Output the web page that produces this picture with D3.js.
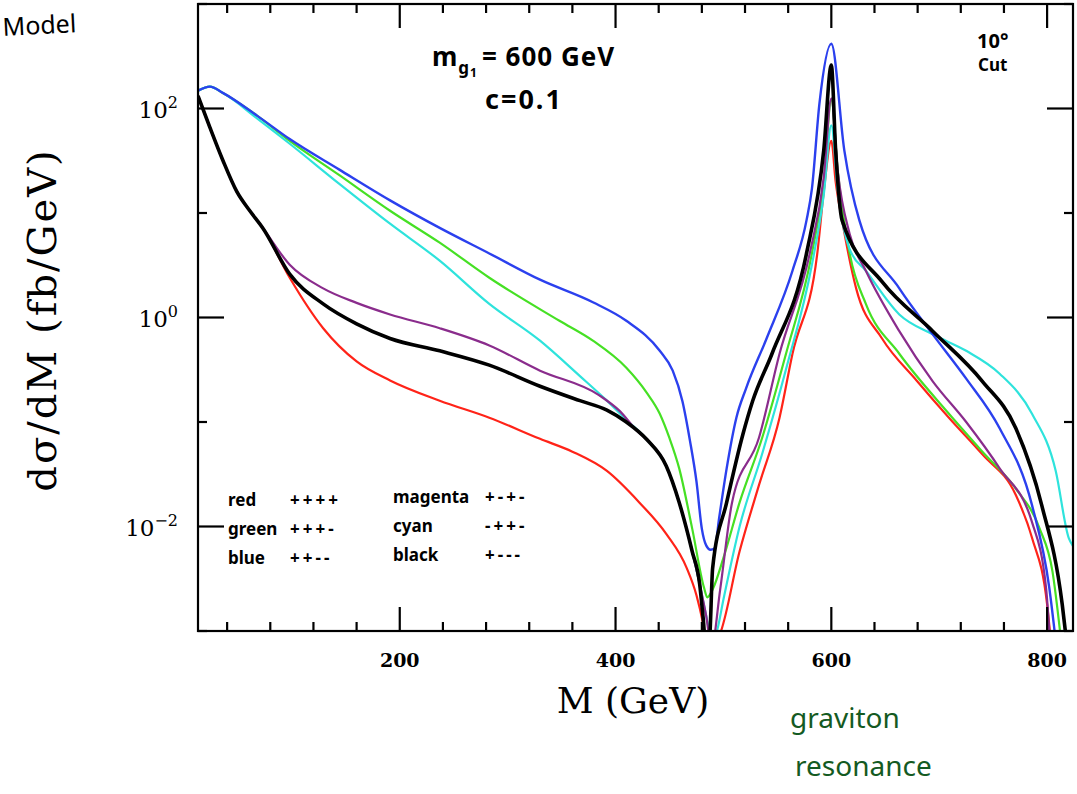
<!DOCTYPE html>
<html>
<head>
<meta charset="utf-8">
<script src="https://cdn.jsdelivr.net/npm/d3@7"></script>
<style>
  body { margin: 0; background: #fff; }
  svg { display: block; }
</style>
</head>
<body>
<div class="chartBox"></div>
<script>
// M in GeV, dsigma/dM in fb/GeV
var redM   = [13, 24, 36, 49, 61, 73, 98, 129, 160, 191, 237, 283, 330, 360, 392, 422, 447, 466, 475, 481, 485, 496, 515, 533, 552, 564, 587, 593, 600, 604, 610, 623, 647, 679, 709, 740, 771, 786, 800, 804];
var redV   = [132, 66, 32, 16, 10.5, 7.2, 2.4, 0.79, 0.38, 0.25, 0.16, 0.11, 0.069, 0.052, 0.034, 0.017, 0.0085, 0.004, 0.0022, 0.0012, 0.0007, 0.0009, 0.0058, 0.025, 0.11, 0.45, 4.1, 16, 49, 20, 8.5, 1.9, 0.63, 0.25, 0.11, 0.049, 0.02, 0.0078, 0.0018, 0.0007];

var greenM = [13, 24, 36, 68, 98, 144, 191, 237, 283, 348, 379, 410, 429, 441, 450, 459, 471, 482, 485, 490, 500, 515, 536, 558, 582, 593, 600, 606, 617, 632, 663, 709, 740, 771, 793, 805, 813];
var greenV = [148, 162, 141, 85, 49, 23, 10.5, 5.2, 2.4, 0.93, 0.6, 0.33, 0.19, 0.12, 0.07, 0.036, 0.0096, 0.0026, 0.0021, 0.0025, 0.005, 0.017, 0.071, 0.45, 4.1, 20, 120, 25, 4.1, 1.35, 0.45, 0.12, 0.052, 0.023, 0.0096, 0.0037, 0.0008];

var blueM  = [13, 24, 36, 68, 98, 144, 191, 237, 283, 330, 379, 410, 441, 453, 462, 469, 475, 480, 484, 488, 492, 496, 503, 512, 521, 540, 564, 577, 582, 589, 600, 612, 626, 663, 694, 725, 756, 786, 802, 808];
var blueV  = [148, 162, 141, 85, 51, 26, 13.2, 7.2, 4.1, 2.3, 1.4, 0.93, 0.48, 0.31, 0.158, 0.066, 0.027, 0.0095, 0.0066, 0.006, 0.0062, 0.012, 0.036, 0.11, 0.21, 0.63, 2.8, 8.5, 17, 112, 417, 40, 8.5, 1.9, 0.69, 0.26, 0.087, 0.016, 0.0026, 0.0008];

var magentaM = [13, 24, 36, 49, 61, 73, 98, 129, 160, 191, 237, 283, 330, 385, 404, 420, 429, 447, 459, 471, 478, 484, 489, 497, 508, 533, 552, 580, 593, 600, 606, 617, 632, 663, 694, 725, 756, 786, 799, 803];
var magentaV = [132, 66, 32, 16, 10.5, 7.2, 3.2, 1.9, 1.38, 1.07, 0.79, 0.54, 0.31, 0.18, 0.127, 0.082, 0.068, 0.038, 0.017, 0.0058, 0.0028, 0.0014, 0.0007, 0.0025, 0.017, 0.071, 0.45, 4.1, 22, 125, 25, 6.3, 2.8, 0.74, 0.245, 0.1, 0.036, 0.011, 0.0026, 0.0007];

var cyanM  = [13, 24, 36, 68, 98, 144, 191, 237, 283, 330, 367, 392, 410, 429, 447, 459, 471, 478, 484, 490, 494, 500, 515, 536, 558, 582, 593, 600, 606, 617, 632, 663, 694, 725, 756, 786, 808, 820, 824];
var cyanV  = [148, 162, 141, 80, 46, 19, 7.9, 3.5, 1.35, 0.6, 0.275, 0.16, 0.105, 0.068, 0.038, 0.017, 0.0058, 0.0028, 0.0014, 0.0008, 0.001, 0.002, 0.01, 0.05, 0.32, 3.2, 15, 69, 16, 4.5, 2.8, 1.07, 0.69, 0.48, 0.29, 0.12, 0.034, 0.0078, 0.0065];

var blackM = [13, 24, 36, 49, 61, 73, 98, 129, 160, 191, 237, 283, 330, 367, 392, 410, 429, 447, 459, 471, 478, 481, 484, 487, 490, 503, 518, 527, 545, 577, 593, 600, 604, 610, 647, 694, 740, 771, 795, 814, 818];
var blackV = [132, 66, 32, 16, 10.5, 7.2, 2.6, 1.35, 0.87, 0.63, 0.48, 0.35, 0.22, 0.16, 0.13, 0.10, 0.068, 0.038, 0.017, 0.0058, 0.0028, 0.0014, 0.0007, 0.0008, 0.004, 0.017, 0.076, 0.158, 0.45, 4.1, 40, 260, 40, 8.5, 2.2, 0.74, 0.245, 0.087, 0.016, 0.0018, 0.0008];

var xMajorTicks = [200, 400, 600, 800];
var xMinorTicks = [40, 80, 120, 160, 240, 280, 320, 360, 440, 480, 520, 560, 640, 680, 720, 760];
var yLabelledTicks = [1e-2, 1, 1e2];
var yPlainTicks = [1e-3, 1e-1, 10, 1e3];
var yTickExp = ['\u22122', '0', '2'];

var legendNamesL = ['red', 'green', 'blue'];
var legendSignsL = ['++++', '+++-', '++--'];
var legendNamesR = ['magenta', 'cyan', 'black'];
var legendSignsR = ['+-+-', '-++-', '+---'];

var series = [
  { name: 'red',     M: redM,     V: redV,     color: '#ff2318', w: 2.2 },
  { name: 'green',   M: greenM,   V: greenV,   color: '#46e024', w: 2.2 },
  { name: 'cyan',    M: cyanM,    V: cyanV,    color: '#2ee3dc', w: 2.2 },
  { name: 'blue',    M: blueM,    V: blueV,    color: '#2b40ee', w: 2.4 },
  { name: 'magenta', M: magentaM, V: magentaV, color: '#8a2c8c', w: 2.2 },
  { name: 'black',   M: blackM,   V: blackV,   color: '#000000', w: 3.6 }
];

var W = 1077, H = 794;
var pL = 198, pR = 1073, pT = 4, pB = 631;

var svg = d3.select('.chartBox')
  .append('svg')
  .attr('width', W)
  .attr('height', H);

var x = d3.scaleLinear().domain([13, 824]).range([pL, pR]);
var y = d3.scaleLog().domain([1e-3, 1e3]).range([pB, pT]);

svg.append('clipPath').attr('id', 'plotClip')
  .append('rect')
  .attr('x', pL).attr('y', pT)
  .attr('width', pR - pL).attr('height', pB - pT);

var line = d3.line()
  .x(function(d){ return x(d[0]); })
  .y(function(d){ return y(d[1]); })
  .curve(d3.curveMonotoneX);

svg.append('g')
  .attr('clip-path', 'url(#plotClip)')
  .selectAll('path')
  .data(series)
  .enter()
  .append('path')
  .attr('fill', 'none')
  .attr('stroke', function(d){ return d.color; })
  .attr('stroke-width', function(d){ return d.w; })
  .attr('stroke-linejoin', 'round')
  .attr('d', function(d){
    return line(d.M.map(function(m, i){ return [m, d.V[i]]; }));
  });

// frame
svg.append('rect')
  .attr('x', pL).attr('y', pT)
  .attr('width', pR - pL).attr('height', pB - pT)
  .attr('fill', 'none')
  .attr('stroke', '#000')
  .attr('stroke-width', 2.2);

// ticks drawn inward on all four sides
var ticks = svg.append('g').attr('stroke', '#000').attr('stroke-width', 2.2);

function xTicks(vals, len){
  vals.forEach(function(v){
    ticks.append('line').attr('x1', x(v)).attr('x2', x(v)).attr('y1', pB).attr('y2', pB - len);
    ticks.append('line').attr('x1', x(v)).attr('x2', x(v)).attr('y1', pT).attr('y2', pT + len);
  });
}
function yTicks(vals, len){
  vals.forEach(function(v){
    ticks.append('line').attr('y1', y(v)).attr('y2', y(v)).attr('x1', pL).attr('x2', pL + len);
    ticks.append('line').attr('y1', y(v)).attr('y2', y(v)).attr('x1', pR).attr('x2', pR - len);
  });
}
xTicks(xMajorTicks, 24);
xTicks(xMinorTicks, 9);
yTicks(yLabelledTicks, 26);
yTicks(yPlainTicks, 9);

// x tick labels
svg.append('g')
  .selectAll('text')
  .data(xMajorTicks)
  .enter()
  .append('text')
  .attr('x', function(d){ return x(d); })
  .attr('y', 667)
  .attr('text-anchor', 'middle')
  .attr('font-family', 'DejaVu Serif, serif')
  .attr('font-weight', 'bold')
  .attr('font-size', 19)
  .text(function(d){ return d; });

// y tick labels 10^n
var yl = svg.append('g')
  .selectAll('text')
  .data(yLabelledTicks)
  .enter()
  .append('text')
  .attr('x', 178)
  .attr('y', function(d){ return y(d) + 9; })
  .attr('text-anchor', 'end')
  .attr('font-family', 'DejaVu Serif, serif')
  .attr('font-size', 23);
yl.append('tspan').text('10');
yl.append('tspan')
  .attr('dy', -10)
  .attr('font-size', 16)
  .text(function(d, i){ return yTickExp[i]; });

// axis titles
svg.append('text')
  .attr('x', 633).attr('y', 713)
  .attr('text-anchor', 'middle')
  .attr('font-family', 'DejaVu Serif, serif')
  .attr('font-size', 36)
  .text('M (GeV)');

svg.append('text')
  .attr('transform', 'translate(56,320) rotate(-90)')
  .attr('text-anchor', 'middle')
  .attr('font-family', 'DejaVu Serif, serif')
  .attr('font-size', 40)
  .attr('letter-spacing', 2)
  .text('d\u03c3/dM (fb/GeV)');

// hand-written notes
var hand = 'Comic Sans MS, Noto Sans, DejaVu Sans, sans-serif';

svg.append('text')
  .attr('x', 3).attr('y', 36)
  .attr('font-family', hand).attr('font-size', 25)
  .attr('transform', 'rotate(-3,3,36)')
  .text('Model');

var mg = svg.append('text')
  .attr('x', 432).attr('y', 66)
  .attr('font-family', hand).attr('font-weight', 'bold').attr('font-size', 26)
  .attr('letter-spacing', 1);
mg.append('tspan').text('m');
mg.append('tspan').attr('dy', 8).attr('font-size', 17).text('g');
mg.append('tspan').attr('dy', 3).attr('font-size', 12).text('1');
mg.append('tspan').attr('dy', -11).attr('dx', 4).text('= 600 GeV');

svg.append('text')
  .attr('x', 485).attr('y', 109)
  .attr('font-family', hand).attr('font-weight', 'bold').attr('font-size', 27)
  .attr('letter-spacing', 2)
  .text('c=0.1');

svg.append('text')
  .attr('x', 977).attr('y', 48)
  .attr('font-family', hand).attr('font-weight', 'bold').attr('font-size', 20)
  .text('10\u00b0');
svg.append('text')
  .attr('x', 978).attr('y', 71)
  .attr('font-family', hand).attr('font-weight', 'bold').attr('font-size', 17)
  .text('Cut');

function legendColumn(names, signs, xName, xSign, y0){
  var g = svg.append('g')
    .attr('font-family', hand).attr('font-weight', 'bold')
    .attr('font-size', 17);
  g.selectAll('text.n').data(names).enter().append('text')
    .attr('class', 'n')
    .attr('x', xName)
    .attr('y', function(d, i){ return y0 + i * 29; })
    .text(function(d){ return d; });
  g.selectAll('text.s').data(signs).enter().append('text')
    .attr('class', 's')
    .attr('x', xSign)
    .attr('y', function(d, i){ return y0 + i * 29; })
    .attr('letter-spacing', 3)
    .text(function(d){ return d; });
}
legendColumn(legendNamesL, legendSignsL, 228, 290, 506);
legendColumn(legendNamesR, legendSignsR, 393, 485, 503);

svg.append('text')
  .attr('x', 790).attr('y', 728)
  .attr('font-family', hand).attr('font-size', 28)
  .attr('fill', '#145a22')
  .text('graviton');
svg.append('text')
  .attr('x', 795).attr('y', 776)
  .attr('font-family', hand).attr('font-size', 28)
  .attr('fill', '#145a22')
  .text('resonance');
</script>
</body>
</html>
